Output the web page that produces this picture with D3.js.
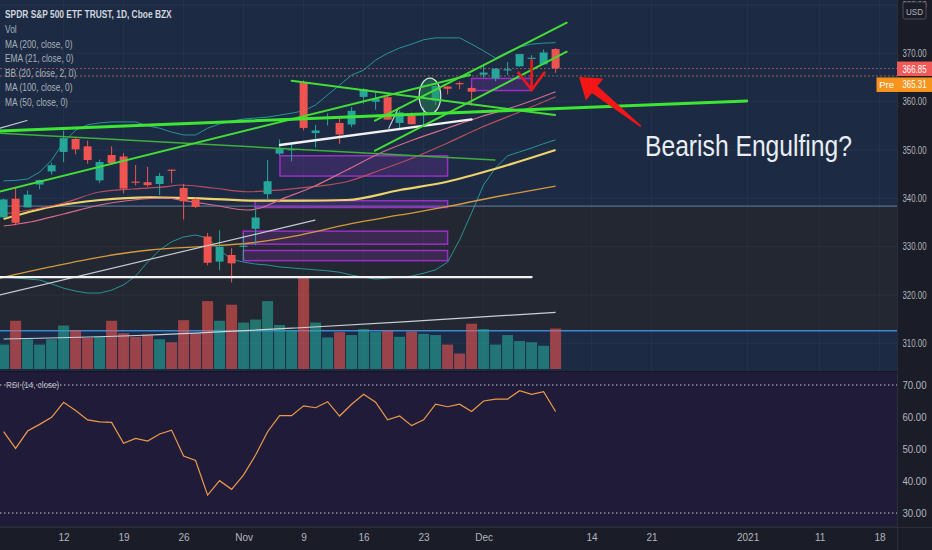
<!DOCTYPE html>
<html><head><meta charset="utf-8">
<script src="https://cdn.jsdelivr.net/npm/d3@7"></script>
<style>html,body{margin:0;padding:0;background:#222630;overflow:hidden}</style>
</head><body>
<svg id="c" width="932" height="550"></svg>
<script>
// ---------------- DATA ----------------
const dates = ["2020-10-05","2020-10-06","2020-10-07","2020-10-08","2020-10-09","2020-10-12","2020-10-13","2020-10-14","2020-10-15","2020-10-16","2020-10-19","2020-10-20","2020-10-21","2020-10-22","2020-10-23","2020-10-26","2020-10-27","2020-10-28","2020-10-29","2020-10-30","2020-11-02","2020-11-03","2020-11-04","2020-11-05","2020-11-06","2020-11-09","2020-11-10","2020-11-11","2020-11-12","2020-11-13","2020-11-16","2020-11-17","2020-11-18","2020-11-19","2020-11-20","2020-11-23","2020-11-24","2020-11-25","2020-11-27","2020-11-30","2020-12-01","2020-12-02","2020-12-03","2020-12-04","2020-12-07","2020-12-08","2020-12-09"];
const firstBar = -5; // bar slot of first date (Oct 12 = slot 0)
const open  = [336.06,339.91,338.12,342.85,345.56,349.59,352.28,350.75,343.71,348.96,348.65,343.46,343.33,342.96,345.93,342.13,339.76,332.10,326.91,328.28,330.20,333.69,340.86,349.24,349.93,363.97,353.49,356.40,355.58,355.27,360.98,359.97,360.91,355.60,357.50,357.28,360.21,363.13,363.84,362.83,365.57,364.82,366.68,367.32,369.02,367.72,370.88];
const high  = [339.96,342.35,341.63,343.85,347.35,354.02,352.47,351.93,348.02,350.75,349.33,346.88,346.50,345.24,345.99,342.98,340.12,332.84,333.40,329.69,332.36,338.25,347.94,352.19,351.51,364.38,355.18,357.56,356.72,358.90,362.78,361.92,361.50,358.18,357.72,358.82,363.81,363.16,364.18,363.12,367.68,366.96,368.19,369.85,369.62,370.78,371.05];
const low   = [336.01,334.38,338.09,341.86,344.89,347.50,349.09,347.14,343.13,347.10,341.04,342.64,342.40,340.65,343.13,335.62,337.99,326.13,325.09,322.60,327.24,330.29,339.59,348.86,347.65,354.06,350.51,355.06,351.26,354.71,359.59,358.34,356.24,354.15,355.25,354.87,359.29,361.48,362.58,359.17,364.93,364.20,365.50,367.22,367.72,367.67,365.95];
const close = [339.76,334.93,340.76,343.78,346.85,352.43,350.13,347.93,347.50,347.29,342.01,343.38,342.73,344.61,345.78,339.39,338.22,326.66,329.98,326.54,330.20,336.03,343.54,350.24,350.16,354.56,354.04,356.67,353.21,358.10,362.57,360.62,356.28,357.78,355.33,357.46,363.22,362.66,363.67,362.06,366.02,366.79,366.69,369.85,369.09,370.17,366.85];
const volume = [41,81,50,41,50,73,65,52,54,81,60,54,58,50,45,82,60,114,81,108,78,83,114,74,65,155,78,53,62,57,67,62,64,54,63,59,57,41,26,76,67,41,57,47,45,39,68];
const rsi = [55.4,50.2,55.6,57.7,59.9,64.6,62.0,59.1,58.5,58.3,51.8,53.3,52.5,54.7,55.9,47.8,46.4,35.6,40.1,37.4,41.9,48.1,55.4,60.4,60.4,63.5,62.9,64.8,60.3,64.0,67.1,64.6,59.1,60.3,57.3,59.1,64.0,63.2,64.0,61.7,65.0,65.6,65.6,68.2,67.1,67.9,61.7];
const bbUpper = [343.6,343.7,344.0,345.4,347.9,351.6,354.1,355.2,355.6,355.8,355.8,355.8,355.0,354.5,353.7,353.1,353.1,354.5,355.4,356.0,356.4,356.6,356.8,357.2,357.6,358.1,359.3,361.4,363.4,365.5,366.5,368.6,370.0,371.1,371.9,372.8,373.2,373.2,373.2,371.9,370.5,369.0,370.3,371.3,371.9,372.1,372.2];
const bbLower = [323.7,323.5,323.3,323.1,322.3,321.4,320.8,320.4,320.4,321.0,322.1,323.9,326.8,329.3,331.0,332.0,332.4,331.8,329.3,327.4,326.8,326.4,326.2,325.8,325.6,325.4,325.2,325.0,324.7,324.1,323.7,323.3,323.5,323.7,323.9,324.5,325.2,326.8,331.4,337.0,342.8,346.3,348.8,349.6,350.4,351.3,352.1];
// sparse readings [bar slot, price]
const bbBasis = [[-5,336.75],[-2.8,337.58],[0,339.03],[3,341.3],[5.8,341.92],[8.6,342.4],[9.7,342.75],[12.45,342.13],[15.3,341.36],[18,341.71],[20.8,342.4],[23.6,343.43],[26.4,345.85],[29.1,348.34],[32,351.44],[34.7,354.54],[38,357.85],[41,361.02]];
const ema21 = [[-5,334.27],[-2.8,335.1],[0,336.75],[3,338.61],[5.8,339.65],[8.6,340.06],[9.7,339.65],[12.45,338.61],[15.3,337.58],[16.4,337.99],[18,339.65],[20.8,342.4],[23.6,345.85],[26.4,349.37],[29.1,352.06],[32,354.54],[34.7,356.82],[38,359.3],[41,362.05]];
const ma50 = [[-5,335.72],[-1.13,338.2],[3.03,339.65],[7.2,340.2],[11.37,339.99],[16.1,339.5],[19.7,339.5],[23.6,339.65],[28.03,341.72],[31.95,343.43],[36.12,346.22],[41,350.0]];
const ma100 = [[-5.3,323.5],[-1.13,325.8],[3.03,327.85],[7.2,329.3],[11.37,330.0],[15.53,330.75],[19.7,332.4],[23.87,334.7],[28.03,336.55],[31.95,338.26],[34.7,339.65],[41,342.54]];
const ma200 = [[-5,310.89],[7.2,311.72],[19.37,313.17],[28.62,314.47],[41,316.41]];
const priceTicks = [310,320,330,340,350,360,370,380];
const rsiTicks = [30,40,50,60,70];
const timeTickSlots = [0,5,10,15,20,25,30,35,44,49,57,63,68];
const timeTickLabels = ["12","19","26","Nov","9","16","23","Dec","14","21","2021","11","18"];
const legendLabels = ["SPDR S&P 500 ETF TRUST, 1D, Cboe BZX","Vol","MA (200, close, 0)","EMA (21, close, 0)","BB (20, close, 2, 0)","MA (100, close, 0)","MA (50, close, 0)"];
const lastPrice = 366.85, prePrice = 365.31;
// drawings: [slot, price] endpoints
const greenThick = [[-5.3,353.92],[56.93,360.13]];
const greenLines = [
  [[-5.5,341.3],[33.87,365.51]],
  [[19.0,364.33],[40.95,357.23]],
  [[25.95,356.05],[41.93,376.33]],
  [[25.95,349.85],[41.93,370.33]]
];
const greenThin = [[-5.3,353.45],[35.95,347.92]];
const whiteLines = [[[18.03,351.03],[34.0,356.34]],[[-5.5,323.71],[39.0,323.71]]];
const grayLines = [[[-5.3,320.0],[20.95,335.5]],[[-5.3,354.5],[-3.05,356.1]],[[27.1,354.5],[27.9,358.7]]];
const zoneLevels = [338.4,312.6];
const boxes = [[18.03,32.0,348.8,344.6],[15.95,32.0,339.5,338.1],[14.97,32.0,333.2,330.5],[14.97,32.0,329.2,327.1],[34.0,39.0,364.8,362.3]];
const ellipseMark = [30.53,361.17,0.9,3.7];
const downArrow = [39.0,368.6,362.4,37.9,40.07,366.0];
const bigArrow = [[42.95,365.1],[48.1,354.9]];
const noteText = "Bearish Engulfing?";
const notePos = [48.45,348.75];

// ---------------- LAYOUT ----------------
const W=932,H=550, AX=897, MAIN_B=371, RSI_T=372, RSI_B=526, TIME_T=527;
const svg = d3.select("#c");
const x = d3.scaleLinear().domain([-5,68]).range([3.6,879.6]);
const y = d3.scaleLinear().domain([310,370]).range([343.3,53.3]);
const yv = d3.scaleLinear().domain([0,155]).range([369,276.7]);
const yr = d3.scaleLinear().domain([30,70]).range([513,385]);
const slot = k => firstBar + k;
const UP="#26a69a", DN="#ef5350";
const sans = "'Liberation Sans','DejaVu Sans',sans-serif";

const defs = svg.append("defs");
defs.append("clipPath").attr("id","mainClip").append("rect").attr("x",0).attr("y",0).attr("width",AX).attr("height",MAIN_B);
defs.append("clipPath").attr("id","rsiClip").append("rect").attr("x",0).attr("y",RSI_T).attr("width",AX).attr("height",RSI_B-RSI_T);

// backgrounds
svg.append("rect").attr("width",W).attr("height",H).attr("fill","#232731");
const main = svg.append("g").attr("clip-path","url(#mainClip)");
main.append("rect").attr("x",0).attr("y",0).attr("width",AX).attr("height",y(zoneLevels[0])).attr("fill","#1c2b43");
main.append("rect").attr("x",0).attr("y",y(zoneLevels[1])).attr("width",AX).attr("height",MAIN_B-y(zoneLevels[1])).attr("fill","#1c2b43");

// grid
priceTicks.forEach(p=>main.append("line").attr("x1",0).attr("x2",AX).attr("y1",y(p)).attr("y2",y(p)).attr("stroke","rgba(255,255,255,0.045)"));
timeTickSlots.forEach(s=>{
  svg.append("line").attr("x1",x(s)).attr("x2",x(s)).attr("y1",0).attr("y2",RSI_B).attr("stroke","rgba(255,255,255,0.03)");
});
main.append("line").attr("x1",0).attr("x2",AX).attr("y1",y(zoneLevels[0])).attr("y2",y(zoneLevels[0])).attr("stroke","#5d6f8c").attr("stroke-width",1.2);
main.append("line").attr("x1",0).attr("x2",AX).attr("y1",y(zoneLevels[1])).attr("y2",y(zoneLevels[1])).attr("stroke","#3f86d6").attr("stroke-width",1.5);

// purple boxes
boxes.forEach(b=>{
  main.append("rect").attr("x",x(b[0])).attr("y",y(b[2])).attr("width",x(b[1])-x(b[0])).attr("height",y(b[3])-y(b[2]))
    .attr("fill","rgba(150,50,200,0.22)").attr("stroke","#9a2fc6").attr("stroke-width",1.5);
});

// volume
main.selectAll(".vol").data(volume).enter().append("rect")
  .attr("x",(d,k)=>x(slot(k))-5.5).attr("width",11)
  .attr("y",d=>yv(d)).attr("height",d=>yv(0)-yv(d))
  .attr("fill",(d,k)=>close[k]>=open[k]?"rgba(38,166,154,0.6)":"rgba(239,83,80,0.6)");

// indicator lines
const lineP = d3.line().x(d=>x(d[0])).y(d=>y(d[1])).curve(d3.curveMonotoneX);
const lineIdx = d3.line().x((d,k)=>x(slot(k))).y(d=>y(d));
main.append("path").attr("d",lineIdx(bbUpper)).attr("fill","none").attr("stroke","#2a9ea0").attr("stroke-width",1).attr("opacity",0.9);
main.append("path").attr("d",lineIdx(bbLower)).attr("fill","none").attr("stroke","#2a9ea0").attr("stroke-width",1).attr("opacity",0.9);
main.append("path").attr("d",lineP(ma200)).attr("fill","none").attr("stroke","#c6d0d6").attr("stroke-width",1.2);
main.append("path").attr("d",lineP(ma100)).attr("fill","none").attr("stroke","#d39a3e").attr("stroke-width",1.3);
main.append("path").attr("d",lineP(ma50)).attr("fill","none").attr("stroke","#eed36a").attr("stroke-width",2.2);
main.append("path").attr("d",lineP(bbBasis)).attr("fill","none").attr("stroke","#b84d5e").attr("stroke-width",1.2);
main.append("path").attr("d",lineP(ema21)).attr("fill","none").attr("stroke","#d86a8c").attr("stroke-width",1.2);

// price lines
main.append("line").attr("x1",0).attr("x2",AX).attr("y1",y(lastPrice)).attr("y2",y(lastPrice)).attr("stroke","#b0606a").attr("stroke-width",1).attr("stroke-dasharray","2,2").attr("opacity",0.8);
main.append("line").attr("x1",0).attr("x2",AX).attr("y1",y(prePrice)).attr("y2",y(prePrice)).attr("stroke","#b07848").attr("stroke-width",1).attr("stroke-dasharray","2,2").attr("opacity",0.8);

// candles
const cg = main.append("g");
dates.forEach((dt,k)=>{
  const col = close[k]>=open[k]?UP:DN, cx=x(slot(k));
  cg.append("line").attr("x1",cx).attr("x2",cx).attr("y1",y(high[k])).attr("y2",y(low[k])).attr("stroke",col).attr("stroke-width",1);
  const top=y(Math.max(open[k],close[k])), bot=y(Math.min(open[k],close[k]));
  cg.append("rect").attr("x",cx-4).attr("width",8).attr("y",top).attr("height",Math.max(1.2,bot-top)).attr("fill",col);
});

// drawings
const seg = (pts,col,w)=>main.append("line").attr("x1",x(pts[0][0])).attr("y1",y(pts[0][1])).attr("x2",x(pts[1][0])).attr("y2",y(pts[1][1])).attr("stroke",col).attr("stroke-width",w).attr("stroke-linecap","round");
seg(greenThin,"#3fae3a",1.5);
grayLines.forEach(l=>seg(l,"#c4c9d2",1.2));
whiteLines.forEach(l=>seg(l,"#f2f2f2",2.3));
main.append("ellipse").attr("cx",x(ellipseMark[0])).attr("cy",y(ellipseMark[1]))
  .attr("rx",x(ellipseMark[0]+ellipseMark[2])-x(ellipseMark[0])).attr("ry",y(ellipseMark[1]-ellipseMark[3])-y(ellipseMark[1]))
  .attr("fill","rgba(40,140,90,0.45)").attr("stroke","#d8e8dc").attr("stroke-width",1.2);
greenLines.forEach(l=>seg(l,"#43dd35",2));
seg(greenThick,"#3ee634",3);

// red down arrow
const da = downArrow;
main.append("path").attr("d",`M${x(da[0])},${y(da[1])}L${x(da[0])},${y(da[2])}M${x(da[3])},${y(da[5])}L${x(da[0])},${y(da[2])}L${x(da[4])},${y(da[5])}`)
  .attr("fill","none").attr("stroke","#e8191b").attr("stroke-width",2.6).attr("stroke-linecap","round").attr("stroke-linejoin","round");

// big arrow
(function(){
  const T=[x(bigArrow[0][0]),y(bigArrow[0][1])], S=[x(bigArrow[1][0]),y(bigArrow[1][1])];
  const dx=T[0]-S[0], dy=T[1]-S[1], L=Math.hypot(dx,dy), u=[dx/L,dy/L], n=[-u[1],u[0]];
  const hb=[T[0]-u[0]*20,T[1]-u[1]*20];
  const P=(b,s)=>[b[0]+n[0]*s,b[1]+n[1]*s];
  const pts=[T,P(hb,14),P(hb,4.5),P(S,0.8),P(S,-0.8),P(hb,-4.5),P(hb,-14)];
  main.append("path").attr("d","M"+pts.map(p=>p.join(",")).join("L")+"Z").attr("fill","#f21616");
})();

main.append("text").attr("x",x(notePos[0])).attr("y",y(notePos[1])).text(noteText)
  .attr("font-family",sans).attr("font-size",30).attr("fill","#e8eef4")
  .attr("textLength",207).attr("lengthAdjust","spacingAndGlyphs");

// legend (condensed look)
const lg = svg.append("g").attr("transform","translate(5,0) scale(0.84,1)");
legendLabels.forEach((t,k)=>{
  lg.append("text").attr("x",0).attr("y",18.5+k*14.6).text(t)
    .attr("font-family",sans).attr("font-size",10).attr("font-weight",k===0?"bold":"normal")
    .attr("fill",k===0?"#d0d4dc":"#a9b0bb");
});

// pane separator
svg.append("rect").attr("x",0).attr("y",MAIN_B).attr("width",W).attr("height",1).attr("fill","#14171f");

// RSI pane
const rp = svg.append("g").attr("clip-path","url(#rsiClip)");
rp.append("rect").attr("x",0).attr("y",RSI_T).attr("width",AX).attr("height",RSI_B-RSI_T).attr("fill","#211b3a");
[70,30].forEach(v=>rp.append("line").attr("x1",0).attr("x2",AX).attr("y1",yr(v)).attr("y2",yr(v)).attr("stroke","#c8c8d0").attr("stroke-width",1).attr("stroke-dasharray","1.5,2.5"));
rp.append("path").attr("d",d3.line().x((d,k)=>x(slot(k))).y(d=>yr(d))(rsi)).attr("fill","none").attr("stroke","#ec9a48").attr("stroke-width",1.2);
svg.append("g").attr("transform","translate(6,0) scale(0.85,1)").append("text").attr("x",0).attr("y",388).text("RSI (14, close)").attr("font-family",sans).attr("font-size",9.5).attr("fill","#c0c4cc");

// right axis panel
svg.append("rect").attr("x",AX).attr("y",0).attr("width",W-AX).attr("height",H).attr("fill","#1a1d27");
svg.append("line").attr("x1",AX+0.5).attr("x2",AX+0.5).attr("y1",0).attr("y2",H).attr("stroke","#2a2e39");
// time axis panel
svg.append("rect").attr("x",0).attr("y",TIME_T).attr("width",AX).attr("height",H-TIME_T).attr("fill","#1a1d27");
svg.append("line").attr("x1",0).attr("x2",W).attr("y1",TIME_T+0.5).attr("y2",TIME_T+0.5).attr("stroke","#2a2e39");

const styleY = g=>{ g.select(".domain").remove();
  g.selectAll("text").attr("fill","#b2b5be").attr("font-family",sans).attr("font-size",10)
   .attr("x",17.5).attr("text-anchor","middle").attr("textLength",24).attr("lengthAdjust","spacingAndGlyphs"); };
svg.append("g").attr("transform",`translate(${AX},0)`)
  .call(d3.axisRight(y).tickValues(priceTicks).tickFormat(d3.format(".2f")).tickSize(0)).call(styleY);
svg.append("g").attr("transform",`translate(${AX},0)`)
  .call(d3.axisRight(yr).tickValues(rsiTicks).tickFormat(d3.format(".2f")).tickSize(0)).call(styleY);
svg.append("g").attr("transform",`translate(0,${TIME_T})`)
  .call(d3.axisBottom(x).tickValues(timeTickSlots).tickFormat((d,k)=>timeTickLabels[k]).tickSize(0).tickPadding(7))
  .call(g=>{ g.select(".domain").remove(); g.selectAll("text").attr("fill","#b2b5be").attr("font-family",sans).attr("font-size",10); });

// USD box
svg.append("rect").attr("x",903).attr("y",2).attr("width",23).attr("height",17).attr("rx",2).attr("fill","#1a1d27").attr("stroke","#4a4f5c");
svg.append("text").attr("x",914.5).attr("y",14.5).attr("text-anchor","middle").text("USD").attr("font-family",sans).attr("font-size",9)
  .attr("textLength",17).attr("lengthAdjust","spacingAndGlyphs").attr("fill","#b2b5be");

// price labels
svg.append("rect").attr("x",AX).attr("y",y(lastPrice)-7).attr("width",W-AX).attr("height",14.5).attr("fill","#f05a5a");
svg.append("text").attr("x",914.5).attr("y",y(lastPrice)+4).attr("text-anchor","middle").text(lastPrice.toFixed(2)).attr("font-family",sans).attr("font-size",10)
  .attr("textLength",24).attr("lengthAdjust","spacingAndGlyphs").attr("fill","#ffffff");
const preY = y(prePrice)+1.5;
svg.append("rect").attr("x",876.5).attr("y",preY).attr("width",20.5).attr("height",14.5).attr("fill","#f7941d");
svg.append("text").attr("x",886.7).attr("y",preY+11).attr("text-anchor","middle").text("Pre").attr("font-family",sans).attr("font-size",9.5)
  .attr("textLength",15).attr("lengthAdjust","spacingAndGlyphs").attr("fill","#ffffff");
svg.append("rect").attr("x",AX).attr("y",preY).attr("width",W-AX).attr("height",14.5).attr("fill","#f7941d");
svg.append("text").attr("x",914.5).attr("y",preY+11).attr("text-anchor","middle").text(prePrice.toFixed(2)).attr("font-family",sans).attr("font-size",10)
  .attr("textLength",24).attr("lengthAdjust","spacingAndGlyphs").attr("fill","#ffffff");
</script>
</body></html>
